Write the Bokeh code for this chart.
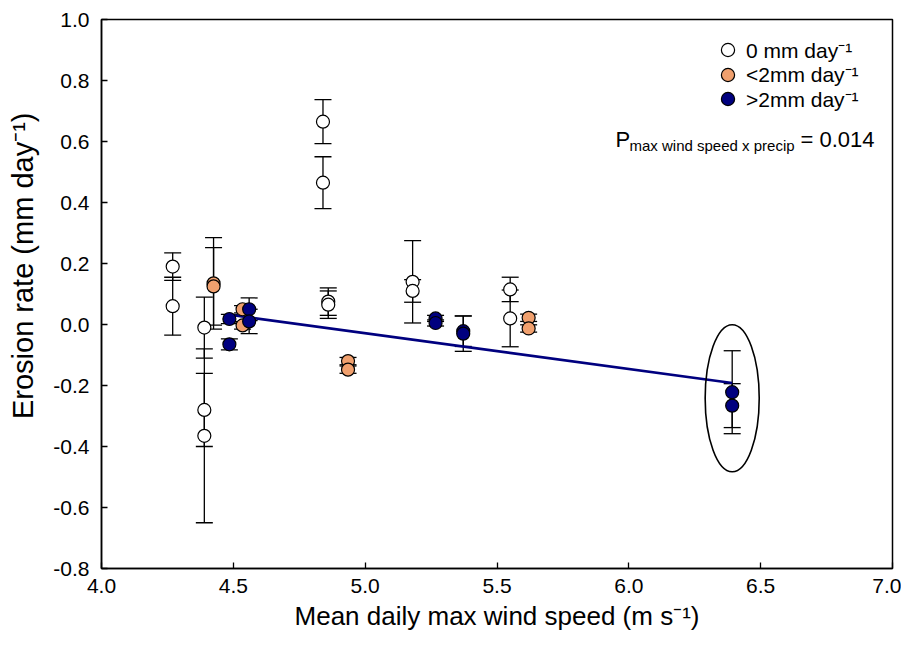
import math
from bokeh.plotting import figure
from bokeh.models import (ColumnDataSource, Whisker, TeeHead, Label, Legend,
                          LegendItem, Range1d, FixedTicker, NumeralTickFormatter)
from bokeh.embed import file_html
from bokeh.resources import INLINE

# ---------------- data ----------------
# 0 mm day-1 (open circles)
x_none = [4.27, 4.27, 4.39, 4.39, 4.39, 4.84, 4.84, 4.86, 4.86, 5.18, 5.18, 5.55, 5.55]
y_none = [0.19, 0.06, -0.01, -0.28, -0.365, 0.665, 0.465, 0.075, 0.065, 0.14, 0.11, 0.115, 0.02]
e_none = [0.045, 0.095, 0.10, 0.12, 0.285, 0.072, 0.085, 0.045, 0.045, 0.135, 0.037, 0.04, 0.093]

# <2mm day-1 (orange)
x_low = [4.425, 4.425, 4.535, 4.535, 4.935, 4.935, 5.62, 5.62]
y_low = [0.135, 0.125, 0.05, -0.003, -0.12, -0.148, 0.022, -0.013]
e_low = [0.15, 0.127, 0.012, 0.012, 0.012, 0.012, 0.012, 0.012]

# >2mm day-1 (navy)
x_high = [4.485, 4.485, 4.56, 4.56, 5.267, 5.267, 5.372, 5.372, 6.392, 6.392]
y_high = [0.018, -0.065, 0.05, 0.01, 0.02, 0.005, -0.022, -0.03, -0.222, -0.266]
e_high = [0.015, 0.018, 0.037, 0.04, 0.01, 0.01, 0.05, 0.058, 0.136, 0.072]

# regression line for >2mm day-1
fit_x = [4.485, 6.392]
fit_y = [0.032, -0.192]

# highlighted ellipse (centre, width, height in data units)
ell_x = [6.392]
ell_y = [-0.242]
ell_w = [0.205]
ell_h = [0.482]

x_ticks = [4.0, 4.5, 5.0, 5.5, 6.0, 6.5, 7.0]
y_ticks = [-0.8, -0.6, -0.4, -0.2, 0.0, 0.2, 0.4, 0.6, 0.8, 1.0]

legend_labels = ["0 mm day\u207b\u00b9", "<2mm day\u207b\u00b9", ">2mm day\u207b\u00b9"]
x_title = "Mean daily max wind speed (m s\u207b\u00b9)"
y_title = "Erosion rate (mm day\u207b\u00b9)"
p_main = "P"
p_sub = "max wind speed x precip"
p_val = "= 0.014"

FONT = "Liberation Sans"
NAVY = "#00007F"
ORANGE = "#F0A06E"

p = figure(width=901, height=637, output_backend="svg", toolbar_location=None,
           x_range=Range1d(4.0, 7.0), y_range=Range1d(-0.8, 1.0),
           min_border_left=101, min_border_right=9, min_border_top=19,
           min_border_bottom=69)
p.grid.visible = False
p.outline_line_color = "black"
p.outline_line_width = 1.5
p.background_fill_color = "white"
p.border_fill_color = "white"

for ax in (p.xaxis[0], p.yaxis[0]):
    ax.major_tick_in = 6
    ax.major_tick_out = 0
    ax.minor_tick_line_color = None
    ax.axis_line_width = 1.5
    ax.axis_line_color = "black"
    ax.major_tick_line_width = 1.3
    ax.major_tick_line_color = "black"
    ax.major_label_text_font = FONT
    ax.major_label_text_font_size = "21px"
    ax.major_label_text_color = "black"
    ax.formatter = NumeralTickFormatter(format="0.0")
    ax.axis_label_text_font = FONT
    ax.axis_label_text_font_style = "normal"
    ax.axis_label_text_color = "black"

p.xaxis.ticker = FixedTicker(ticks=x_ticks)
p.yaxis.ticker = FixedTicker(ticks=y_ticks)
p.xaxis.major_label_standoff = 10
p.yaxis.major_label_standoff = 12
p.xaxis.axis_label = x_title
p.xaxis.axis_label_text_font_size = "26px"
p.xaxis.axis_label_standoff = 5
# leading no-break spaces move the rotated title up, as in the reference
p.yaxis.axis_label = "\u00a0" * 7 + y_title
p.yaxis.axis_label_text_font_size = "29px"
p.yaxis.axis_label_standoff = 11

# regression line
p.line(fit_x, fit_y, line_color=NAVY, line_width=2.6)

# ellipse
p.ellipse(x=ell_x, y=ell_y, width=ell_w, height=ell_h, fill_color=None,
          line_color="black", line_width=1.6)


def add_group(xs, ys, es, fill):
    src = ColumnDataSource(dict(x=xs, y=ys,
                                upper=[a + b for a, b in zip(ys, es)],
                                lower=[a - b for a, b in zip(ys, es)]))
    w = Whisker(source=src, base="x", upper="upper", lower="lower",
                dimension="height", line_color="black", line_width=1.3,
                upper_head=TeeHead(size=17, line_width=1.3, line_color="black"),
                lower_head=TeeHead(size=17, line_width=1.3, line_color="black"))
    p.add_layout(w)
    r = p.scatter("x", "y", source=src, size=13, fill_color=fill,
                  line_color="black", line_width=1.2)
    return r


r0 = add_group(x_none, y_none, e_none, "white")
r1 = add_group(x_low, y_low, e_low, ORANGE)
r2 = add_group(x_high, y_high, e_high, NAVY)

# one legend per row so the row spacing can match the reference
GL = 33
row_bottoms = [502, 477.5, 453]
for lab, rend, yb in zip(legend_labels, [r0, r1, r2], row_bottoms):
    lg = Legend(items=[LegendItem(label=lab, renderers=[rend])],
                location=(610, yb), border_line_color=None,
                background_fill_alpha=0, label_text_font=FONT,
                label_text_font_size="21px", label_text_color="black",
                glyph_width=GL, glyph_height=GL, label_height=GL,
                label_standoff=2, spacing=0, padding=0, margin=0)
    p.add_layout(lg)

# P-value annotation
p.add_layout(Label(x=514, y=429, x_units="screen", y_units="screen",
                   text=p_main, text_align="left", text_baseline="alphabetic",
                   text_font=FONT, text_font_size="22px", text_color="black"))
p.add_layout(Label(x=528, y=423, x_units="screen", y_units="screen",
                   text=p_sub, text_align="left", text_baseline="alphabetic",
                   text_font=FONT, text_font_size="15px", text_color="black"))
p.add_layout(Label(x=699, y=429, x_units="screen", y_units="screen",
                   text=p_val, text_align="left", text_baseline="alphabetic",
                   text_font=FONT, text_font_size="22px", text_color="black"))

open("out.html", "w").write(file_html(p, INLINE))
